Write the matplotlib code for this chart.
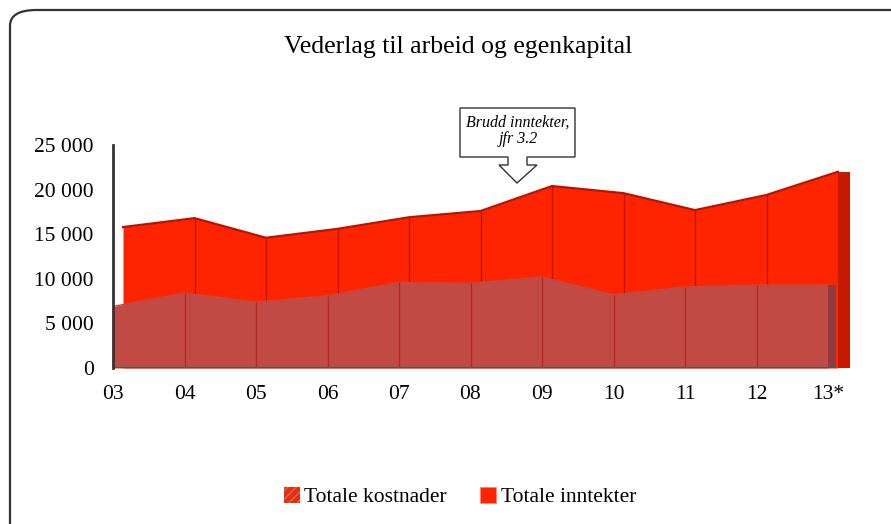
import matplotlib
matplotlib.use("Agg")
import matplotlib.pyplot as plt
from matplotlib.patches import Patch, Polygon, FancyBboxPatch

# ---- data ----
years = ["03", "04", "05", "06", "07", "08", "09", "10", "11", "12", "13*"]
kostnader = [6900, 8400, 7400, 8100, 9600, 9500, 10200, 8200, 9100, 9300, 9300]
inntekter = [15800, 16800, 14600, 15600, 16900, 17600, 20400, 19600, 17700, 19400, 22000]
y_ticks = [0, 5000, 10000, 15000, 20000, 25000]

# ---- style ----
SERIF = ["Liberation Serif", "DejaVu Serif"]
C_INN = "#ff2400"
C_INN_EDGE = "#b81400"
C_INN_SIDE = "#c41a00"
C_KOST = "#c24a44"
C_KOST_EDGE = "#b02a22"
C_KOST_SIDE = "#8e3a3e"
DX_BACK = 0.14     # depth offset for the back series
SIDE_BACK = 0.17
SIDE_FRONT = 0.11

W, H = 891, 524
fig = plt.figure(figsize=(W / 100, H / 100), dpi=100)

# rounded frame round the whole chart (runs off the right and bottom edges)
frame = FancyBboxPatch((10 / W, (H - 545) / H), 930 / W, 535 / H,
                       boxstyle="round,pad=0,rounding_size=0.03",
                       transform=fig.transFigure, facecolor="none",
                       edgecolor="#333333", linewidth=1.6, clip_on=False)
fig.patches.append(frame)

ax = fig.add_axes([113 / W, (H - 368) / H, 750.75 / W, 223 / H])
x = list(range(len(years)))
xb = [v + DX_BACK for v in x]

# back series: Totale inntekter
ax.fill_between(xb, 0, inntekter, color=C_INN, linewidth=0, zorder=1)
ax.plot(xb, inntekter, color=C_INN_EDGE, linewidth=1.6, zorder=2)
ax.vlines(xb[1:-1], 0, inntekter[1:-1], color=C_INN_EDGE, linewidth=0.9, zorder=2)
ax.add_patch(Polygon([(xb[-1], 0), (xb[-1], inntekter[-1]),
                      (xb[-1] + SIDE_BACK, inntekter[-1]), (xb[-1] + SIDE_BACK, 0)],
                     closed=True, facecolor=C_INN_SIDE, edgecolor="none", zorder=2))

# front series: Totale kostnader
ax.fill_between(x, 0, kostnader, color=C_KOST, linewidth=0, zorder=3)
ax.plot(x, kostnader, color=C_KOST, linewidth=1.0, zorder=4)
ax.vlines(x[1:-1], 0, kostnader[1:-1], color=C_KOST_EDGE, linewidth=0.9, zorder=4)
ax.add_patch(Polygon([(x[-1], 0), (x[-1], kostnader[-1]),
                      (x[-1] + SIDE_FRONT, kostnader[-1]), (x[-1] + SIDE_FRONT, 0)],
                     closed=True, facecolor=C_KOST_SIDE, edgecolor="none", zorder=4))

# base line
ax.plot([0, x[-1] + SIDE_FRONT], [0, 0], color="#555555", linewidth=1.5, zorder=5,
        solid_capstyle="butt")

ax.set_xlim(0, 10.5)
ax.set_ylim(0, 25000)
for s in ["top", "right", "bottom"]:
    ax.spines[s].set_visible(False)
ax.spines["left"].set_color("#333333")
ax.spines["left"].set_linewidth(2)
ax.spines["left"].set_zorder(6)

ax.set_xticks(x)
ax.set_xticklabels(years, fontfamily=SERIF, fontsize=15.5)
ax.set_yticks(y_ticks)
ax.set_yticklabels([f"{v:,}".replace(",", " ") for v in y_ticks],
                   fontfamily=SERIF, fontsize=15.5)
ax.tick_params(axis="x", length=0, pad=12)
ax.tick_params(axis="y", length=0, pad=14)
ax.patch.set_alpha(0)

# title
fig.text(458 / W, 1 - 47 / H, "Vederlag til arbeid og egenkapital",
         ha="center", va="center", fontfamily=SERIF, fontsize=18.5)

# callout box with hollow down arrow
box = [(460, 108), (575, 108), (575, 157), (527, 157), (527, 165), (537, 165),
       (517, 183), (499, 165), (508, 165), (508, 157), (460, 157)]
fig.patches.append(Polygon([(px / W, 1 - py / H) for px, py in box], closed=True,
                           transform=fig.transFigure, facecolor="white",
                           edgecolor="#333333", linewidth=1.0))
fig.text(518 / W, 1 - 131 / H, "Brudd inntekter,\njfr 3.2", ha="center", va="center",
         fontfamily=SERIF, fontsize=11.5, style="italic", linespacing=1.05)

# legend
handles = [Patch(facecolor=C_INN, edgecolor="#888888", hatch="////", linewidth=0),
           Patch(facecolor=C_INN, edgecolor="#ff8070", linewidth=0.5)]
fig.legend(handles, ["Totale kostnader", "Totale inntekter"],
           loc="center", bbox_to_anchor=(460 / W, 1 - 497 / H), ncol=2,
           frameon=False, handlelength=0.75, handleheight=0.75, handletextpad=0.2,
           columnspacing=1.55, prop={"family": SERIF, "size": 15.5})

fig.savefig("out.png", dpi=100)
